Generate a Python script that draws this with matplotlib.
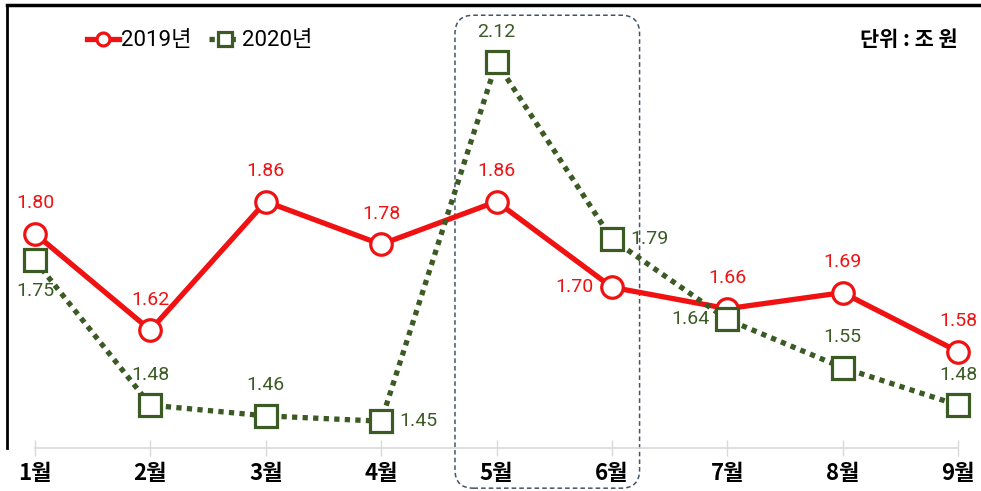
import matplotlib
matplotlib.use("Agg")
import matplotlib.pyplot as plt
from matplotlib.patches import FancyBboxPatch

plt.rcParams['font.family'] = ['Roboto', 'Noto Sans CJK KR', 'DejaVu Sans']

months = ['1월', '2월', '3월', '4월', '5월', '6월', '7월', '8월', '9월']
sales_2019 = [1.80, 1.62, 1.86, 1.78, 1.86, 1.70, 1.66, 1.69, 1.58]
sales_2020 = [1.75, 1.48, 1.46, 1.45, 2.12, 1.79, 1.64, 1.55, 1.48]

# where each value label sits relative to its marker
pos_2019 = ['top', 'top', 'top', 'top', 'top', 'left', 'top', 'top', 'top']
pos_2020 = ['bottom', 'top', 'top', 'right', 'top', 'right', 'left', 'top', 'top']

red = '#f01212'
green = '#3b5a24'
kr_bold = ['Noto Sans CJK KR', 'DejaVu Sans']

fig = plt.figure(figsize=(9.81, 4.91), dpi=100)
ax = fig.add_axes([0.00714, 0.08758, 0.99286, 0.90224])

x = list(range(len(months)))
ax.plot(x, sales_2019, color=red, lw=3.8, marker='o', ms=15.5,
        mfc='white', mec=red, mew=2.3, zorder=3, label='2019년')
ax.plot(x, sales_2020, color=green, lw=3.8, ls=(0, (1.0, 1.0)),
        marker='s', ms=16, mfc='white', mec=green, mew=2.3, zorder=4,
        label='2020년')

offsets = {'top': (0, 22, 'center', 'center'),
           'bottom': (0, -22, 'center', 'center'),
           'left': (-13, 0, 'right', 'center'),
           'right': (13, 0, 'left', 'center')}


def label_points(vals, where, color):
    for i, (v, p) in enumerate(zip(vals, where)):
        dx, dy, ha, va = offsets[p]
        ax.annotate(f'{v:.2f}', (i, v), xytext=(dx, dy),
                    textcoords='offset points', ha=ha, va=va,
                    fontsize=14, color=color, zorder=6)


label_points(sales_2019, pos_2019, red)
label_points(sales_2020, pos_2020, green)

# highlight box around May-June
box = FancyBboxPatch((3.64, 1.325), 5.24 - 3.64, 2.2077 - 1.325,
                     boxstyle='round,pad=0,rounding_size=0.16',
                     mutation_aspect=0.2153, fill=False,
                     ec='#44546a', lw=1.1, ls=(0, (3, 2)),
                     transform=ax.transData, clip_on=False, zorder=2)
ax.add_patch(box)

ax.set_xlim(-0.2427, 8.1993)
ax.set_ylim(1.40, 2.2268)

ax.set_xticks(x)
ax.set_xticklabels(months, fontsize=16, fontweight='bold', family=kr_bold)
ax.set_yticks([])
ax.tick_params(axis='x', direction='inout', length=12, width=1,
               color='#d9d9d9', pad=4)

ax.spines['right'].set_visible(False)
ax.spines['bottom'].set_color('#d9d9d9')
ax.spines['bottom'].set_linewidth(1.2)
ax.spines['bottom'].set_bounds(0, 8)
ax.spines['left'].set_linewidth(2)
ax.spines['top'].set_linewidth(2.5)

leg = ax.legend(loc='upper left', bbox_to_anchor=(0.062, 0.988), ncol=2,
                frameon=False, fontsize=16, handlelength=1.4,
                handletextpad=0.1, columnspacing=0.8, markerscale=0.6)

ax.text(0.976, 0.922, '단위 : 조 원', transform=ax.transAxes,
        ha='right', va='center', fontsize=15, fontweight='bold',
        family=kr_bold)

fig.savefig('out.png', dpi=100)
